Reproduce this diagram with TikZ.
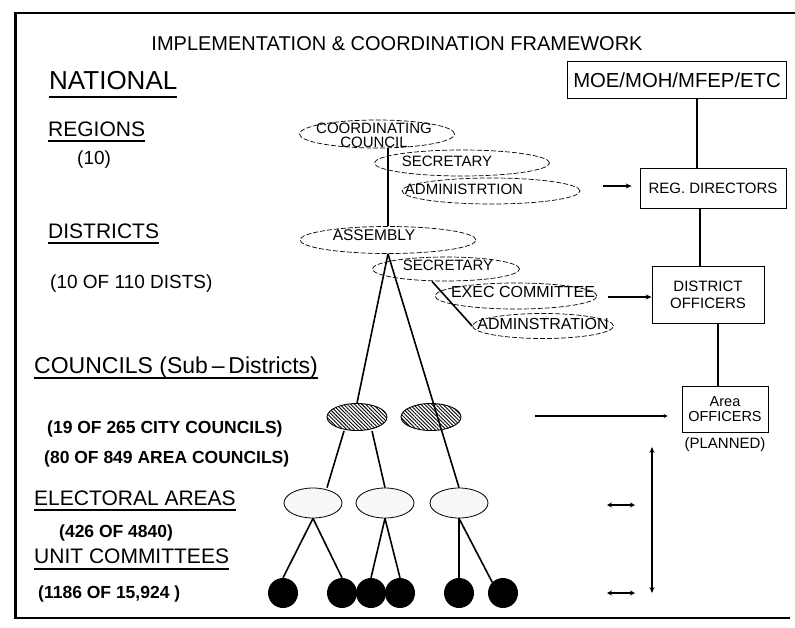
\documentclass[tikz,border=0pt]{standalone}
\usepackage{fontspec}
\setmainfont{Liberation Sans}
\usetikzlibrary{shapes.geometric,patterns.meta,arrows.meta}
\begin{document}
\begin{tikzpicture}[x=1pt,y=-1pt,
  fs/.style={font=\fontsize{#1}{#1}\selectfont},
  lbl/.style={anchor=base west,inner sep=0pt},
  head/.style={lbl,fs=21},
  sub/.style={lbl,fs=19},
  subb/.style={lbl,font=\fontsize{17.5}{17.5}\selectfont\bfseries},
  ul/.style={line width=1.4pt},
  ell/.style={shape=ellipse,draw,dash pattern=on 5pt off 2pt,line width=0.7pt,inner sep=0pt},
  etext/.style={font=\fontsize{15}{14}\selectfont,inner sep=0pt,align=center},
  hatch/.style={shape=ellipse,draw,line width=0.9pt,pattern={Lines[angle=-45,distance=2.6pt,line width=0.9pt]},inner sep=0pt,minimum width=60,minimum height=27},
  elect/.style={shape=ellipse,draw,line width=0.8pt,fill=gray!6,inner sep=0pt,minimum width=58,minimum height=30},
  unit/.style={circle,fill=black,inner sep=0pt,minimum size=30},
  box/.style={draw,line width=0.8pt,inner sep=0pt,align=center},
  conn/.style={line width=1.6pt},
  arr/.style={line width=1.4pt,-{Stealth[length=6pt,width=5pt]}},
  darr/.style={line width=1.6pt,{Stealth[length=6pt,width=5pt]}-{Stealth[length=6pt,width=5pt]}}
]
\useasboundingbox (0,0) rectangle (795,627);
% frame
\draw[line width=3pt] (15,12) -- (15,619);
\draw[line width=1.8pt] (14,13) -- (795,13);
\draw[line width=1.8pt] (14,618) -- (790,618);

% title
\node[anchor=base,inner sep=0pt,fs=20] (title) at (397,50) {IMPLEMENTATION \& COORDINATION FRAMEWORK};

% left labels
\node[lbl,fs=26] (nat) at (49,89) {NATIONAL};
\draw[ul] ([yshift=-8pt]nat.base west) -- ([yshift=-8pt]nat.base east);
\node[head] (reg) at (48,136) {REGIONS};
\draw[ul] ([yshift=-5pt]reg.base west) -- ([yshift=-5pt]reg.base east);
\node[sub] (regn) at (77,164) {(10)};
\node[head] (dis) at (48,238) {DISTRICTS};
\draw[ul] ([yshift=-5pt]dis.base west) -- ([yshift=-5pt]dis.base east);
\node[sub] (disn) at (50,288) {(10 OF 110 DISTS)};
\node[head,fs=23] (cou) at (34,373) {COUNCILS (Sub\,--\,Districts)};
\draw[ul] ([yshift=-5pt]cou.base west) -- ([yshift=-5pt]cou.base east);
\node[subb] (coua) at (47,433) {(19 OF 265 CITY COUNCILS)};
\node[subb] (coub) at (44,463) {(80 OF 849 AREA COUNCILS)};
\node[head] (ele) at (34,505) {ELECTORAL AREAS};
\draw[ul] ([yshift=-5pt]ele.base west) -- ([yshift=-5pt]ele.base east);
\node[subb] (elen) at (59,537) {(426 OF 4840)};
\node[head] (uni) at (34,563) {UNIT COMMITTEES};
\draw[ul] ([yshift=-6pt]uni.base west) -- ([yshift=-6pt]uni.base east);
\node[subb] (unin) at (38,598) {(1186 OF 15,924 )};

% regional ellipses
\node[ell,minimum width=155,minimum height=28] (cc) at (377,134) {};
\node[etext] (cct) at (374,135) {COORDINATING\\COUNCIL};
\node[ell,minimum width=175,minimum height=26] (rsec) at (462,163) {};
\node[etext] (rsect) at (447,161) {SECRETARY};
\node[ell,minimum width=178,minimum height=26] (radm) at (491,191) {};
\node[etext] (radmt) at (464,189) {ADMINISTRTION};

% district ellipses
\node[ell,minimum width=176,minimum height=27] (asm) at (388,240) {};
\node[etext,font=\fontsize{15.5}{15.5}\selectfont] (asmt) at (374,235) {ASSEMBLY};
\node[ell,minimum width=147,minimum height=24] (dsec) at (446,269) {};
\node[etext] (dsect) at (448,265) {SECRETARY};
\node[ell,minimum width=162,minimum height=26] (exe) at (516,296) {};
\node[etext,font=\fontsize{16}{16}\selectfont] (exet) at (523,292) {EXEC COMMITTEE};
\node[ell,minimum width=141,minimum height=25] (dadm) at (543,326) {};
\node[etext,font=\fontsize{16}{16}\selectfont] (dadmt) at (543,324) {ADMINSTRATION};

% tree nodes
\node[hatch] (h1) at (357,417) {};
\node[hatch] (h2) at (431,417) {};
\node[elect] (e1) at (313,503) {};
\node[elect] (e2) at (385,503) {};
\node[elect] (e3) at (459,503) {};
\node[unit] (c1) at (283,593) {};
\node[unit] (c2) at (342,593) {};
\node[unit] (c3) at (371,593) {};
\node[unit] (c4) at (400,593) {};
\node[unit] (c5) at (459,593) {};
\node[unit] (c6) at (503,593) {};

% tree connectors
\draw[conn] (asm.north) -- (asm.north |- cc.south);
\draw[conn] (asm.south) -- (h1.north);
\draw[conn] (asm.south) -- (e3.north);
\draw[conn] (dsec.south) ++(-14,0) coordinate (dsb) -- (dadm.west);
\draw[conn] ([xshift=-13pt]h1.south) -- ([xshift=14pt]e1.north);
\draw[conn] ([xshift=15pt]h1.south) -- (e2.north);
\draw[conn] (e1.south) -- (c1.north);
\draw[conn] (e1.south) -- (c2.north);
\draw[conn] (e2.south) -- (c3.north);
\draw[conn] (e2.south) -- (c4.north);
\draw[conn] (e3.south) -- (c5.north);
\draw[conn] (e3.south) -- (c6.135);

% right boxes
\node[box,fs=20.3,minimum width=219,minimum height=37] (moe) at (677,80) {MOE/MOH/MFEP/ETC};
\node[box,fs=15,minimum width=146,minimum height=40] (rd) at (713,188) {REG. DIRECTORS};
\node[box,font=\fontsize{15}{17}\selectfont,minimum width=112,minimum height=57] (do) at (708,295) {DISTRICT\\OFFICERS};
\node[box,font=\fontsize{14.5}{15}\selectfont,minimum width=86,minimum height=46] (ao) at (725,409) {Area\\OFFICERS};
\node[fs=15,inner sep=0pt] (pl) at (725,445) {(PLANNED)};

\draw[conn] ([xshift=-16pt]rd.north) -- ([xshift=-16pt]rd.north |- moe.south);
\draw[conn] ([xshift=-8pt]do.north) -- ([xshift=-8pt]do.north |- rd.south);
\draw[conn] ([xshift=-7pt]ao.north) -- ([xshift=-7pt]ao.north |- do.south);

% horizontal arrows
\coordinate (a1) at (603,186);
\draw[arr,line width=1.2pt] (a1) -- ([xshift=-8pt]rd.west |- a1);
\coordinate (a2) at (608,297);
\draw[arr] (a2) -- (do.west |- a2);
\coordinate (a3) at (535,416);
\draw[arr,-{Stealth[length=4pt,width=4pt]}] (a3) -- ([xshift=-14pt]ao.west |- a3);

% double arrows
\coordinate (v1) at (652,447);
\coordinate (v2) at (652,593);
\draw[darr] (v1) -- (v2);
\coordinate (s1) at (607,505);
\coordinate (s2) at (635,505);
\draw[darr,{Stealth[length=5pt,width=5pt]}-{Stealth[length=5pt,width=5pt]}] (s1) -- (s2);
\coordinate (t1) at (607,593);
\coordinate (t2) at (635,593);
\draw[darr,{Stealth[length=5pt,width=5pt]}-{Stealth[length=5pt,width=5pt]}] (t1) -- (t2);
\end{tikzpicture}
\end{document}
